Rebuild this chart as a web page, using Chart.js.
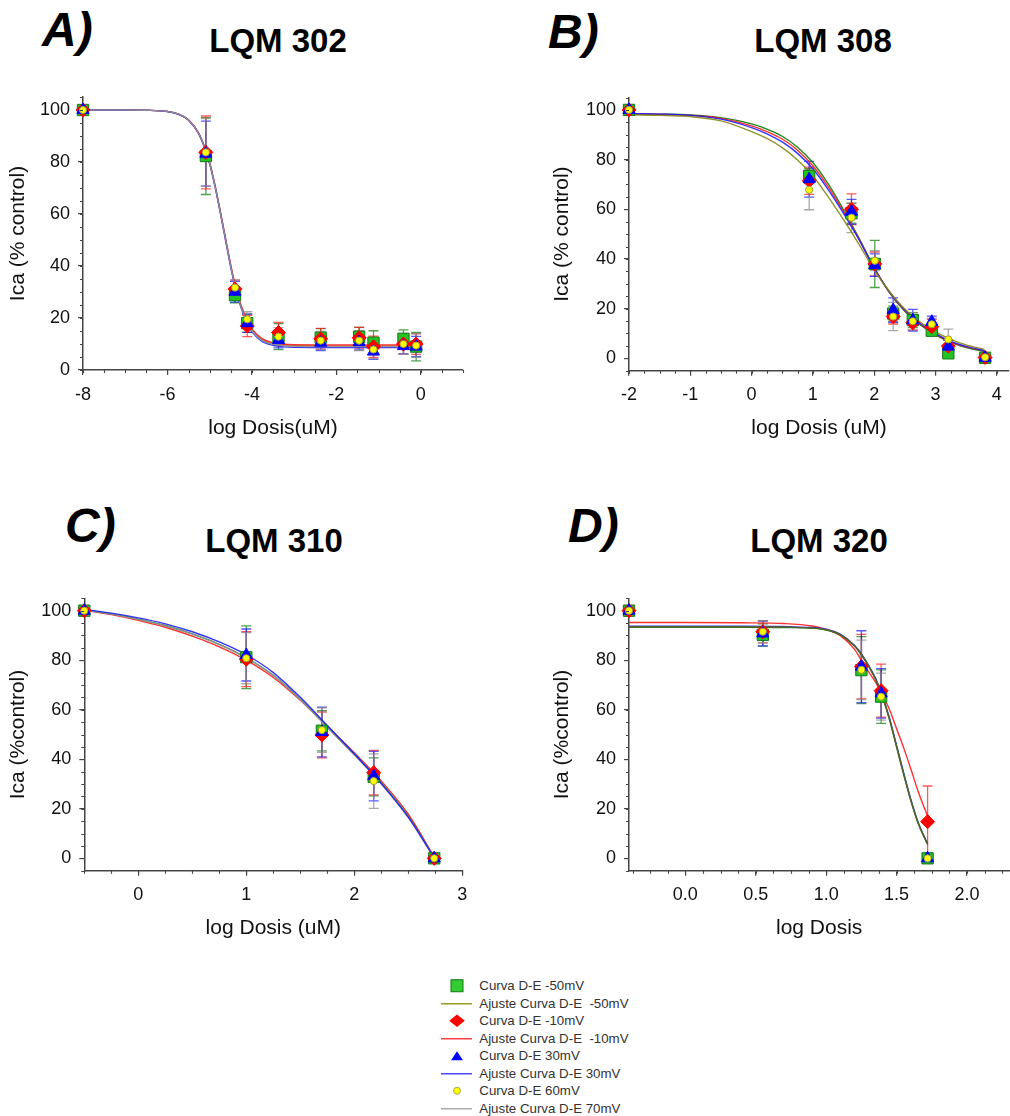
<!DOCTYPE html>
<html>
<head>
<meta charset="utf-8">
<title>Curvas dosis-efecto LQM</title>
<script src="https://cdn.jsdelivr.net/npm/chart.js"></script>
<style>
  html, body { margin: 0; padding: 0; background: #fff; }
  body { width: 1010px; height: 1116px; position: relative; overflow: hidden;
         font-family: "Liberation Sans", Arial, sans-serif; color: #000; }
  canvas { position: absolute; }
  .tag  { position: absolute; font-weight: bold; font-style: italic; font-size: 48px;
          line-height: 48px; white-space: nowrap; }
  .name { position: absolute; font-weight: bold; font-size: 33px; line-height: 33px;
          width: 300px; text-align: center; white-space: nowrap; }
  .leg  { position: absolute; left: 436.7px; height: 17.5px; line-height: 17.5px;
          font-size: 13.3px; color: #333; white-space: pre; }
  .leg svg { position: absolute; left: 0; top: 0; }
  .leg span { position: absolute; left: 42.6px; top: 0; }
</style>
</head>
<body>

<div class="tag"  style="left:42px;  top:5.5px;">A)</div>
<div class="name" style="left:128px; top:23.8px;">LQM 302</div>
<div class="tag"  style="left:548px; top:7.5px;">B)</div>
<div class="name" style="left:673px; top:23.8px;">LQM 308</div>
<div class="tag"  style="left:65px;  top:502px;">C)</div>
<div class="name" style="left:124px; top:523.8px;">LQM 310</div>
<div class="tag"  style="left:568px; top:502px;">D)</div>
<div class="name" style="left:669px; top:523.8px;">LQM 320</div>

<div id="legend"></div>

<script>
// ---------------- Panel A: LQM 302 ----------------
const dosesA   = [-8, -5.09, -4.40, -4.11, -3.37, -2.37, -1.46, -1.12, -0.41, -0.11];
const a_m50    = [100, 82.3, 28.8, 18.0, 12.8, 12.4, 12.8, 10.5, 12.0, 9.0];
const a_m50_sd = [0, 14.8, 3.0, 3.5, 5.0, 3.5, 3.6, 4.6, 3.4, 5.5];
const a_m10    = [100, 83.7, 31.2, 16.9, 14.4, 12.0, 12.4, 8.9, 10.0, 10.0];
const a_m10_sd = [0, 14.0, 3.4, 4.1, 3.9, 4.0, 4.0, 4.1, 3.8, 4.0];
const a_p30    = [100, 83.2, 30.1, 18.0, 11.5, 10.5, 10.7, 7.1, 9.2, 9.0];
const a_p30_sd = [0, 12.5, 4.0, 3.5, 3.0, 3.0, 3.0, 3.0, 3.0, 3.9];
const a_p60    = [100, 83.7, 31.7, 19.5, 12.8, 11.3, 11.3, 7.9, 10.0, 9.4];
const a_p60_sd = [0, 13.0, 3.0, 2.9, 3.5, 3.5, 3.8, 3.5, 3.8, 4.5];

const fitXA    = [-8, -7, -6.5, -6, -5.75, -5.5, -5.25, -5, -4.875, -4.75, -4.625, -4.5,
                  -4.375, -4.25, -4.125, -4, -3.75, -3.5, -3.25, -3, -2, -1, 0];
const fitA_m50 = [100, 100, 99.9, 99.4, 98.5, 96.2, 90.7, 79.5, 71.0, 61.0, 50.5, 40.0,
                  31.0, 24.2, 19.0, 15.4, 11.6, 10.1, 9.5, 9.3, 9.2, 9.2, 9.2];
const fitA_m10 = [100, 100, 99.9, 99.4, 98.5, 96.2, 90.8, 79.7, 71.2, 61.2, 50.8, 40.3,
                  31.3, 24.6, 19.4, 15.8, 12.0, 10.5, 9.9, 9.7, 9.6, 9.6, 9.6];
const fitA_p30 = [100, 100, 99.9, 99.4, 98.4, 96.1, 90.6, 79.3, 70.7, 60.6, 50.0, 39.5,
                  30.5, 23.6, 18.4, 14.8, 10.9, 9.5, 8.9, 8.7, 8.6, 8.6, 8.6];
const fitA_p70 = [100, 100, 99.9, 99.4, 98.5, 96.2, 90.7, 79.4, 70.9, 60.8, 50.3, 39.8,
                  30.8, 23.9, 18.7, 15.1, 11.3, 9.9, 9.3, 9.1, 9.0, 9.0, 9.0];

// ---------------- Panel B: LQM 308 ----------------
const dosesB   = [-2, 0.94, 1.63, 2.01, 2.31, 2.63, 2.94, 3.21, 3.81];
const b_m50    = [100, 73.4, 58.4, 38.0, 18.0, 15.4, 11.1, 2.0, 0.2];
const b_m50_sd = [0, 3.0, 4.0, 9.5, 3.0, 3.0, 2.0, 1.5, 0.5];
const b_m10    = [100, 71.5, 60.0, 38.0, 16.8, 14.3, 12.7, 4.9, 0.3];
const b_m10_sd = [0, 5.5, 6.2, 4.8, 3.0, 3.0, 3.0, 2.5, 0.5];
const b_p30    = [100, 72.1, 59.0, 37.5, 19.4, 15.3, 14.7, 4.7, 0.2];
const b_p30_sd = [0, 7.2, 5.0, 4.5, 4.9, 4.4, 2.3, 2.5, 0.5];
const b_p60    = [100, 67.8, 56.6, 39.3, 16.8, 14.9, 13.7, 7.6, 0.4];
const b_p60_sd = [0, 8.0, 6.0, 4.0, 5.7, 3.5, 2.5, 4.1, 0.5];

const fitXB    = [-2, -1.5, -1, -0.5, 0, 0.25, 0.5, 0.75, 1.0, 1.25, 1.5, 1.75,
                  2.0, 2.25, 2.5, 2.75, 3.0, 3.25, 3.5, 3.8];
const fitB_m50 = [98.0, 97.8, 97.3, 95.6, 91.3, 88.5, 84.8, 79.8, 73.4, 65.0, 55.8, 46.0,
                  35.6, 26.9, 19.8, 14.6, 10.6, 7.6, 5.4, 3.6];
const fitB_m10 = [98.4, 98.2, 97.8, 96.6, 93.6, 91.3, 88.3, 83.8, 77.5, 69.0, 59.0, 48.2,
                  36.4, 26.6, 19.2, 13.8, 9.7, 6.6, 4.6, 3.0];
const fitB_p30 = [98.5, 98.3, 97.8, 96.3, 92.9, 90.4, 87.1, 82.5, 76.3, 67.9, 58.3, 47.9,
                  36.3, 26.7, 19.4, 14.0, 9.9, 6.8, 4.8, 3.1];
const fitB_p70 = [98.4, 98.3, 98.0, 96.9, 94.4, 92.3, 89.4, 85.0, 78.8, 70.2, 59.8, 48.5,
                  36.5, 26.4, 18.9, 13.5, 9.4, 6.4, 4.3, 2.7];

// ---------------- Panel C: LQM 310 ----------------
const dosesC   = [-0.5, 1.0, 1.70, 2.18, 2.74];
const c_m50    = [100, 81.2, 51.5, 32.9, 0];
const c_m50_sd = [0, 12.7, 8.1, 7.7, 0];
const c_m10    = [100, 80.4, 49.8, 34.6, 0];
const c_m10_sd = [0, 11.1, 9.2, 9.0, 0];
const c_p30    = [100, 82.1, 51.0, 33.2, 0];
const c_p30_sd = [0, 10.5, 10.0, 10.0, 0];
const c_p60    = [100, 80.8, 51.8, 31.2, 0];
const c_p60_sd = [0, 10.3, 9.0, 11.0, 0];

const fitXC    = [-0.5, -0.25, 0, 0.25, 0.5, 0.75, 1.0, 1.25, 1.5, 1.75, 2.0, 2.25, 2.5, 2.74];
const fitC_m50 = [100.3, 98.7, 96.6, 94.0, 90.6, 86.4, 81.0, 73.9, 64.2, 53.0, 42.0, 30.4, 16.9, 0.3];
const fitC_m10 = [100.2, 98.4, 96.1, 93.3, 89.7, 85.4, 80.0, 73.0, 63.8, 53.3, 42.6, 31.2, 17.8, 0.6];
const fitC_p30 = [100.5, 99.0, 97.1, 94.7, 91.5, 87.4, 82.2, 75.0, 65.0, 53.6, 42.2, 30.2, 16.6, 0.2];
const fitC_p70 = [100.3, 98.6, 96.5, 93.9, 90.5, 86.3, 80.9, 73.8, 64.1, 52.8, 41.7, 30.0, 16.4, 0.2];

// ---------------- Panel D: LQM 320 ----------------
const dosesD   = [-0.4, 0.55, 1.25, 1.39, 1.72];
const d_m50    = [100, 90.2, 76.0, 65.3, 0];
const d_m50_sd = [0, 4.5, 13.5, 10.8, 0];
const d_m10    = [100, 91.5, 77.4, 67.7, 14.8];
const d_m10_sd = [0, 4.5, 13.0, 10.7, 14.4];
const d_p30    = [100, 90.8, 77.4, 66.6, 0];
const d_p30_sd = [0, 5.0, 14.5, 10.0, 0];
const d_p60    = [100, 91.5, 76.1, 65.3, 0];
const d_p60_sd = [0, 4.5, 12.0, 9.5, 0];

const fitXD    = [-0.4, 0, 0.4, 0.7, 0.9, 1.0, 1.1, 1.2, 1.25, 1.3, 1.35, 1.4, 1.45,
                  1.5, 1.55, 1.6, 1.65, 1.7, 1.72];
const fitD_m50 = [93.5, 93.5, 93.5, 93.4, 93.0, 92.3, 90.3, 85.8, 82.2, 77.6, 72.3, 65.0, 55.8,
                  44.8, 33.8, 23.4, 14.6, 8.0, 5.6];
const fitD_m10 = [95.2, 95.2, 95.1, 94.8, 93.8, 92.4, 89.9, 84.5, 80.0, 75.4, 71.1, 65.9, 60.0,
                  52.3, 44.6, 36.3, 27.5, 19.9, 17.0];
const fitD_p30 = [93.7, 93.7, 93.7, 93.6, 93.2, 92.5, 90.5, 86.0, 82.5, 78.0, 72.8, 65.6, 56.5,
                  45.5, 34.5, 24.0, 15.0, 8.3, 6.0];
const fitD_p70 = [93.3, 93.3, 93.3, 93.2, 92.9, 92.2, 90.2, 85.8, 82.3, 77.8, 72.5, 65.3, 56.2,
                  45.2, 34.2, 23.7, 14.8, 8.1, 5.8];

// ---------------- Axis ticks ----------------
const yMajorTicks = [0, 20, 40, 60, 80, 100];
const xMajorA = [-8, -6, -4, -2, 0];
const xMajorB = [-2, -1, 0, 1, 2, 3, 4];
const xMajorC = [0, 1, 2, 3];
const xMajorD = [0, 0.5, 1.0, 1.5, 2.0];

// ---------------- Legend ----------------
const seriesLabels = ['Curva D-E -50mV', 'Curva D-E -10mV', 'Curva D-E 30mV', 'Curva D-E 60mV'];
const fitLabels    = ['Ajuste Curva D-E  -50mV', 'Ajuste Curva D-E  -10mV',
                      'Ajuste Curva D-E 30mV', 'Ajuste Curva D-E 70mV'];

// ================= drawing =================
Chart.defaults.font.family = '"Liberation Sans", Arial, sans-serif';
const AXIS = '#454545';
const TEXT = '#111';

const OLIVE = 'rgba(135,135,20,0.9)';
const DKOLIVE = 'rgba(95,95,45,0.95)';
const RED   = 'rgba(255,25,25,0.9)';
const BLUE  = 'rgba(30,30,255,0.9)';
const GRAY  = 'rgba(150,150,150,0.9)';
const GREEN = 'rgba(20,130,20,0.95)';

// marker look for the four measured series
const markers = [
  { style: 'rect',     radius: 8,   fill: '#22c322', stroke: '#137a13', bw: 1, err: 'rgba(20,130,20,0.75)',  order: 3 },
  { style: 'rectRot',  radius: 7,   fill: '#ff0000', stroke: '#ff0000', bw: 1, err: 'rgba(255,20,20,0.7)',   order: 2 },
  { style: 'triangle', radius: 7,   fill: '#0000ff', stroke: '#0000ff', bw: 1, err: 'rgba(20,20,255,0.7)',   order: 1 },
  { style: 'circle',   radius: 3.6, fill: '#ffff00', stroke: '#9a9a40', bw: 1, err: 'rgba(140,140,140,0.75)', order: 0 }
];

const steps = (a, b, s) => { const out = []; for (let v = a; v <= b + 1e-9; v += s) out.push(+v.toFixed(4)); return out; };

// vertical error bars with caps, drawn under the markers
const errorBars = {
  id: 'errorBars',
  beforeDatasetsDraw(chart, args, opts) {
    const { ctx, scales: { x, y } } = chart;
    ctx.save();
    ctx.lineWidth = opts.width;
    chart.data.datasets.forEach(ds => {
      if (!ds.errors) return;
      ctx.strokeStyle = ds.errorColor;
      ds.data.forEach((p, i) => {
        const e = ds.errors[i];
        if (!e) return;
        const px = x.getPixelForValue(p.x);
        const yt = y.getPixelForValue(p.y + e);
        const yb = y.getPixelForValue(Math.max(p.y - e, y.min));
        ctx.beginPath();
        ctx.moveTo(px, yt); ctx.lineTo(px, yb);
        ctx.moveTo(px - opts.cap, yt); ctx.lineTo(px + opts.cap, yt);
        if (p.y - e >= y.min) { ctx.moveTo(px - opts.cap, yb); ctx.lineTo(px + opts.cap, yb); }
        ctx.stroke();
      });
    });
    ctx.restore();
  }
};

// short unlabelled ticks between the labelled ones
const minorTicks = {
  id: 'minorTicks',
  afterDraw(chart, args, opts) {
    const { ctx, chartArea: ca, scales: { x, y } } = chart;
    ctx.save();
    ctx.strokeStyle = opts.color;
    ctx.lineWidth = 1.1;
    ctx.beginPath();
    opts.x.forEach(v => {
      const px = Math.round(x.getPixelForValue(v)) + 0.5;
      ctx.moveTo(px, ca.bottom); ctx.lineTo(px, ca.bottom + opts.len);
    });
    opts.y.forEach(v => {
      const py = Math.round(y.getPixelForValue(v)) + 0.5;
      ctx.moveTo(ca.left, py); ctx.lineTo(ca.left - opts.len, py);
    });
    ctx.stroke();
    ctx.restore();
  }
};

function buildPanel(p) {
  const canvas = document.createElement('canvas');
  canvas.width = p.box.w; canvas.height = p.box.h;
  canvas.style.left = p.box.x + 'px'; canvas.style.top = p.box.y + 'px';
  canvas.style.width = p.box.w + 'px'; canvas.style.height = p.box.h + 'px';
  document.body.appendChild(canvas);

  const datasets = [];
  p.fits.forEach((f, k) => datasets.push({
    label: fitLabels[k],
    data: p.fitX.map((x, i) => ({ x, y: f[i] })),
    showLine: true, borderColor: p.fitColors[k], borderWidth: 1.4,
    pointRadius: 0, cubicInterpolationMode: 'monotone', fill: false,
    order: 10 + p.fitOrder[k], clip: false
  }));
  p.series.forEach((s, k) => {
    const m = markers[k];
    datasets.push({
      label: seriesLabels[k],
      data: p.doses.map((x, i) => ({ x, y: s.values[i] })),
      errors: s.sd, errorColor: m.err,
      showLine: false, pointStyle: m.style, pointRadius: m.radius,
      backgroundColor: m.fill, borderColor: m.stroke, borderWidth: m.bw,
      order: m.order, clip: false
    });
  });

  const fmt = v => p.xDecimals ? Number(v).toFixed(p.xDecimals) : String(v);

  new Chart(canvas.getContext('2d'), {
    type: 'scatter',
    data: { datasets },
    options: {
      responsive: false, animation: false, devicePixelRatio: 1,
      layout: { padding: { left: 0, top: p.padTop, right: p.padRight, bottom: 0 } },
      events: [],
      plugins: {
        legend: { display: false }, tooltip: { enabled: false },
        errorBars: { width: 1.3, cap: 5 },
        minorTicks: { x: p.xMinor, y: p.yMinor, len: 3, color: AXIS }
      },
      scales: {
        x: {
          type: 'linear', min: p.xMin, max: p.xMax,
          afterBuildTicks: s => { s.ticks = p.xMajor.map(v => ({ value: v })); },
          afterFit: s => { s.height = p.xH; },
          grid: { drawOnChartArea: false, drawTicks: true, tickLength: 5, color: AXIS, lineWidth: 1.2 },
          border: { display: true, color: AXIS, width: 1.5 },
          ticks: { color: TEXT, font: { size: 18 }, padding: 9, maxRotation: 0, autoSkip: false, callback: fmt },
          title: { display: true, text: p.xTitle, color: TEXT, font: { size: 21 }, padding: { top: 0, bottom: 9.4 } }
        },
        y: {
          type: 'linear', min: p.yMin, max: 105,
          afterBuildTicks: s => { s.ticks = yMajorTicks.map(v => ({ value: v })); },
          afterFit: s => { s.width = p.yW; },
          grid: { drawOnChartArea: false, drawTicks: true, tickLength: 5, color: AXIS, lineWidth: 1.2 },
          border: { display: true, color: AXIS, width: 1.5 },
          ticks: { color: TEXT, font: { size: 18 }, padding: 8, autoSkip: false, callback: v => String(v) },
          title: { display: true, text: p.yTitle, color: TEXT, font: { size: 21 }, padding: { top: p.yTitlePad, bottom: 0 } }
        }
      }
    },
    plugins: [errorBars, minorTicks]
  });
}

buildPanel({
  box: { x: 0, y: 70, w: 480, h: 380 }, padTop: 27, padRight: 17, yW: 83, xH: 80, yTitlePad: 5.9,
  xMin: -8, xMax: 1, xMajor: xMajorA, xMinor: steps(-8, 1, 0.5), xDecimals: 0,
  yMin: 0, yMinor: steps(0, 105, 5),
  xTitle: 'log Dosis(uM)', yTitle: 'Ica (% control)',
  doses: dosesA,
  series: [{ values: a_m50, sd: a_m50_sd }, { values: a_m10, sd: a_m10_sd },
           { values: a_p30, sd: a_p30_sd }, { values: a_p60, sd: a_p60_sd }],
  fitX: fitXA, fits: [fitA_m50, fitA_m10, fitA_p30, fitA_p70],
  fitColors: [OLIVE, RED, BLUE, GRAY], fitOrder: [3, 2, 1, 0]
});

buildPanel({
  box: { x: 500, y: 70, w: 530, h: 380 }, padTop: 27.5, padRight: 21, yW: 129, xH: 79.3, yTitlePad: 49.4,
  xMin: -2, xMax: 4.2, xMajor: xMajorB, xMinor: steps(-2, 4.2, 0.25), xDecimals: 0,
  yMin: -5, yMinor: steps(-5, 105, 5),
  xTitle: 'log Dosis (uM)', yTitle: 'Ica (% control)',
  doses: dosesB,
  series: [{ values: b_m50, sd: b_m50_sd }, { values: b_m10, sd: b_m10_sd },
           { values: b_p30, sd: b_p30_sd }, { values: b_p60, sd: b_p60_sd }],
  fitX: fitXB, fits: [fitB_m50, fitB_m10, fitB_p30, fitB_p70],
  fitColors: [OLIVE, RED, BLUE, GREEN], fitOrder: [0, 2, 1, 3]
});

buildPanel({
  box: { x: 0, y: 570, w: 480, h: 380 }, padTop: 28.3, padRight: 17.7, yW: 84.3, xH: 79.3, yTitlePad: 5.4,
  xMin: -0.5, xMax: 3, xMajor: xMajorC, xMinor: steps(-0.5, 3, 0.25), xDecimals: 0,
  yMin: -5, yMinor: steps(-5, 105, 5),
  xTitle: 'log Dosis (uM)', yTitle: 'Ica (%control)',
  doses: dosesC,
  series: [{ values: c_m50, sd: c_m50_sd }, { values: c_m10, sd: c_m10_sd },
           { values: c_p30, sd: c_p30_sd }, { values: c_p60, sd: c_p60_sd }],
  fitX: fitXC, fits: [fitC_m50, fitC_m10, fitC_p30, fitC_p70],
  fitColors: [GREEN, RED, BLUE, GRAY], fitOrder: [2, 3, 0, 1]
});

buildPanel({
  box: { x: 500, y: 570, w: 530, h: 380 }, padTop: 28.3, padRight: 20.7, yW: 129, xH: 79.3, yTitlePad: 49.4,
  xMin: -0.4, xMax: 2.3, xMajor: xMajorD, xMinor: steps(-0.375, 2.3, 0.125), xDecimals: 1,
  yMin: -5, yMinor: steps(-5, 105, 5),
  xTitle: 'log Dosis', yTitle: 'Ica (%control)',
  doses: dosesD,
  series: [{ values: d_m50, sd: d_m50_sd }, { values: d_m10, sd: d_m10_sd },
           { values: d_p30, sd: d_p30_sd }, { values: d_p60, sd: d_p60_sd }],
  fitX: fitXD, fits: [fitD_m50, fitD_m10, fitD_p30, fitD_p70],
  fitColors: [DKOLIVE, RED, BLUE, GREEN], fitOrder: [0, 3, 2, 1]
});

// ---------------- legend under the panels ----------------
(function buildLegend() {
  const host = document.getElementById('legend');
  const symbols = [
    '<rect x="14" y="2.75" width="12" height="12" fill="#33cc33" stroke="#117711" stroke-width="1"/>',
    '<line x1="4" y1="8.75" x2="35" y2="8.75" stroke="#9a9a22" stroke-width="1.5"/>',
    '<polygon points="20,2.4 27.8,8.75 20,15.1 12.2,8.75" fill="#ff0000"/>',
    '<line x1="4" y1="8.75" x2="35" y2="8.75" stroke="#ff4040" stroke-width="1.5"/>',
    '<polygon points="20,4.2 26,13.2 14,13.2" fill="#0000ff"/>',
    '<line x1="4" y1="8.75" x2="35" y2="8.75" stroke="#4848ff" stroke-width="1.5"/>',
    '<circle cx="20" cy="8.75" r="3.5" fill="#ffff00" stroke="#a8a858" stroke-width="1"/>',
    '<line x1="4" y1="8.75" x2="35" y2="8.75" stroke="#ababab" stroke-width="1.5"/>'
  ];
  const texts = [seriesLabels[0], fitLabels[0], seriesLabels[1], fitLabels[1],
                 seriesLabels[2], fitLabels[2], seriesLabels[3], fitLabels[3]];
  texts.forEach((t, i) => {
    const row = document.createElement('div');
    row.className = 'leg';
    row.style.top = (977.25 + i * 17.5) + 'px';
    row.innerHTML = '<svg width="40" height="17.5">' + symbols[i] + '</svg>';
    const span = document.createElement('span');
    span.textContent = t;
    row.appendChild(span);
    host.appendChild(row);
  });
})();
</script>
</body>
</html>
